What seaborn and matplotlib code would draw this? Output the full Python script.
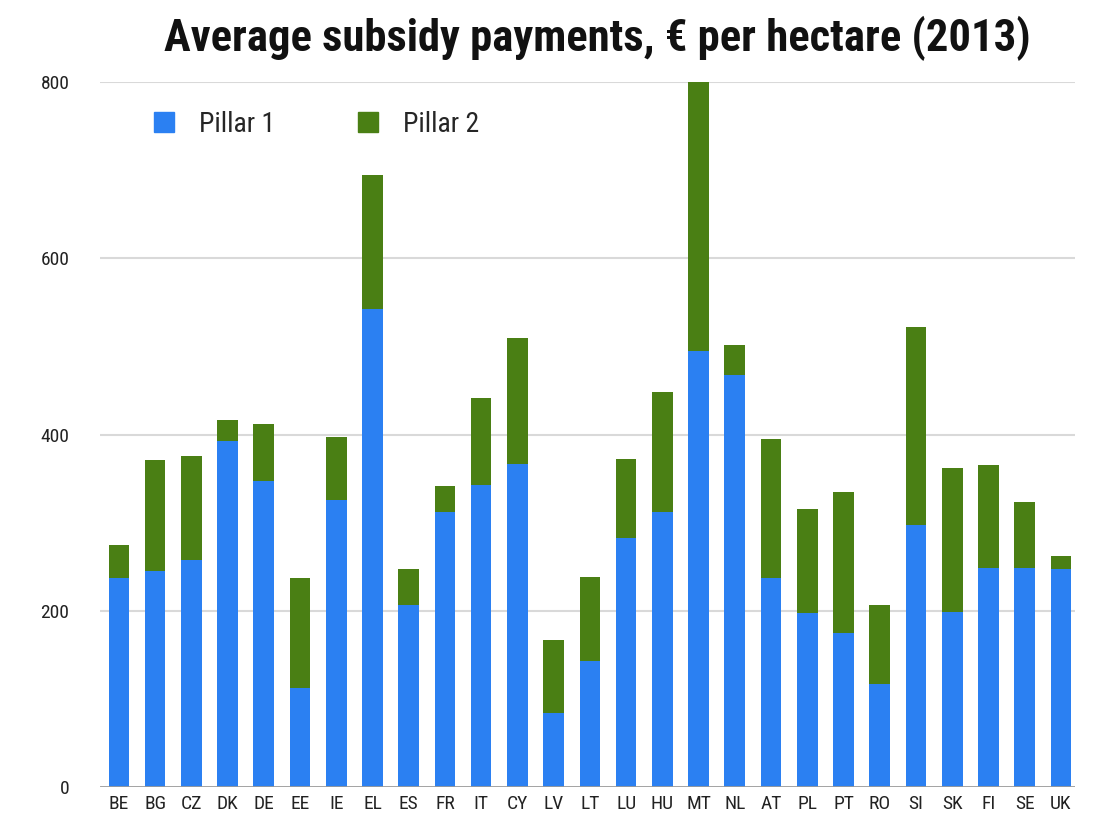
import pandas as pd
import seaborn as sns
import matplotlib
matplotlib.use('agg')
import matplotlib.pyplot as plt
from matplotlib import font_manager
from matplotlib.patches import Patch

countries = ["BE", "BG", "CZ", "DK", "DE", "EE", "IE", "EL", "ES", "FR", "IT", "CY", "LV", "LT",
             "LU", "HU", "MT", "NL", "AT", "PL", "PT", "RO", "SI", "SK", "FI", "SE", "UK"]
pillar1 = [237, 245, 258, 393, 347, 112, 326, 543, 207, 312, 343, 367, 84, 143,
           283, 312, 495, 468, 237, 198, 175, 117, 297, 199, 249, 248, 247]
pillar2 = [38, 126, 118, 24, 65, 125, 71, 152, 40, 30, 98, 142, 83, 95,
           89, 136, 305, 34, 158, 118, 160, 90, 225, 163, 116, 75, 15]

blue = "#2b80f2"
green = "#4a7f14"

df = pd.DataFrame({"country": countries, "p1": pillar1, "p2": pillar2})
df["total"] = df["p1"] + df["p2"]

# prefer a narrow face if one is around
installed = {f.name for f in font_manager.fontManager.ttflist}
narrow = [n for n in ["Liberation Sans Narrow", "DejaVu Sans Condensed", "Roboto Condensed",
                      "Roboto", "DejaVu Sans"] if n in installed]

sns.set_style("white")
plt.rcParams['font.family'] = narrow + ['DejaVu Sans']

fig = plt.figure(figsize=(10.94, 8.26), dpi=100)
ax = fig.add_axes([0.0914, 0.0472, 0.8916, 0.8535])

for v in [200, 400, 600, 800]:
    ax.axhline(v, color="#d9d9d9", lw=1.5, zorder=0)
ax.axhline(0, color="#9a9a9a", lw=2, zorder=3)

sns.barplot(data=df, x="country", y="total", color=green, width=0.57,
            saturation=1, linewidth=0, ax=ax, zorder=2)
sns.barplot(data=df, x="country", y="p1", color=blue, width=0.57,
            saturation=1, linewidth=0, ax=ax, zorder=2)

ax.set_ylim(0, 800)
ax.set_xlim(-0.52, 26.4)
ax.set_yticks([0, 200, 400, 600, 800])
ax.set_xlabel("")
ax.set_ylabel("")
ax.tick_params(axis="y", labelsize=14, colors="#222222", pad=22, length=0)
ax.tick_params(axis="x", labelsize=14, colors="#222222", pad=6, length=0)
for s in ax.spines.values():
    s.set_visible(False)

handles = [Patch(color=blue, label="Pillar 1"), Patch(color=green, label="Pillar 2")]
ax.legend(handles=handles, loc="upper left", bbox_to_anchor=(0.03, 0.995), ncol=2,
          frameon=False, fontsize=20, handlelength=0.7, handleheight=0.7,
          columnspacing=3.0, handletextpad=0.9)

title = fig.text(0.546, 0.953, "Average subsidy payments, € per hectare (2013)",
                 ha="center", va="center", fontsize=27, fontweight="bold", color="#111111")
# fit the title to the width it has in the original (~867 px)
for _ in range(3):
    fig.canvas.draw()
    w = title.get_window_extent().width
    title.set_fontsize(title.get_fontsize() * 867 / w)

fig.savefig("out.png", dpi=100, facecolor="white")
